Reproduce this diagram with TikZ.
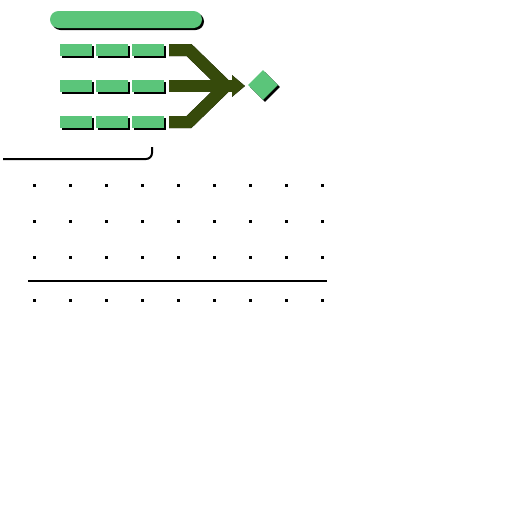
\documentclass[tikz,border=0pt]{standalone}
\usepackage{tikz}
\usetikzlibrary{arrows.meta,shapes.geometric,shadows}
\definecolor{Leaf}{HTML}{5BC57A}
\definecolor{Olive}{HTML}{364A0B}
\tikzset{
  leaf shadow/.style={drop shadow={shadow xshift=2pt,shadow yshift=-2pt,fill=black,opacity=1}},
  title bar/.style={fill=Leaf,rounded corners=8.5pt,minimum width=152pt,minimum height=17pt,
    inner sep=0pt,leaf shadow},
  dash box/.style={fill=Leaf,minimum width=32pt,minimum height=12pt,inner sep=0pt,leaf shadow},
  goal node/.style={diamond,fill=Leaf,minimum width=30pt,minimum height=30pt,inner sep=0pt,
    aspect=1,leaf shadow},
  merge line/.style={draw=Olive,line width=12pt,miter limit=10},
  merge arrow/.style={merge line,-{Triangle[length=13pt,width=21pt]}},
  rule line/.style={draw=black,line width=2pt},
  grid dot/.style={fill=black,minimum size=3pt,inner sep=0pt}
}

\begin{document}
\begin{tikzpicture}[x=1pt,y=-1pt]
  \useasboundingbox (0,0) rectangle (512,512);
  % header bar
  \node[title bar] (head) at (126,19.5) {};
  % three rows of dashes
  \foreach \r/\y in {1/50,2/86,3/122}{
    \foreach \c/\x in {1/76,2/112,3/148}{
      \node[dash box] (r\r c\c) at (\x,\y) {};
    }
  }
  % merging arrow
  \coordinate (in1) at (169,50);
  \coordinate (in2) at (169,86);
  \coordinate (in3) at (169,122);
  \coordinate (join) at (226,86);
  \coordinate (tip) at (245,86);
  \begin{scope}[shift={(2,2)}]
    \draw[merge line,draw=black] (in1) -- ++(20,0) -- (join);
    \draw[merge line,draw=black] (in3) -- ++(20,0) -- (join);
    \draw[merge arrow,draw=black,fill=black] (in2) -- (tip);
  \end{scope}
  \draw[merge line] (in1) -- ++(20,0) -- (join);
  \draw[merge line] (in3) -- ++(20,0) -- (join);
  \draw[merge arrow] (in2) -- (tip);
  % target
  \node[goal node] (goal) at (263,85) {};
  % bracket line
  \coordinate (b1) at (3,159);
  \coordinate (b2) at (152,147);
  \draw[rule line,rounded corners=6pt] (b1) -| (b2);
  % dot grid
  \foreach \j/\y in {1/185,2/221,3/257,4/300}{
    \foreach \i in {0,...,8}{
      \node[grid dot] (d\j-\i) at (34+36*\i,\y) {};
    }
  }
  \draw[rule line] (28,281) -- (327,281);
\end{tikzpicture}
\end{document}
